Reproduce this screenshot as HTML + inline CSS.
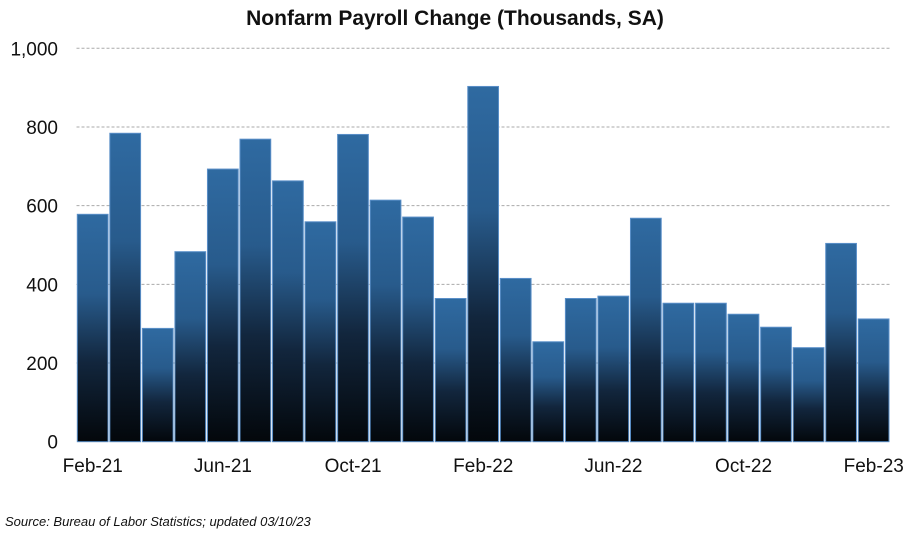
<!DOCTYPE html>
<html><head><meta charset="utf-8"><style>
body{margin:0;background:#fff;}
svg{display:block;font-family:"Liberation Sans",sans-serif;}
</style></head><body>
<svg id="chart" width="910" height="540">
<defs>
<linearGradient id="bg" x1="0" y1="0" x2="0" y2="1">
<stop offset="0" stop-color="#2f6aa1"/>
<stop offset="0.35" stop-color="#285b8c"/>
<stop offset="0.65" stop-color="#12263d"/>
<stop offset="1" stop-color="#03070b"/>
</linearGradient>
</defs>
<text x="455" y="25" text-anchor="middle" font-size="21" font-weight="bold" fill="#111">Nonfarm Payroll Change (Thousands, SA)</text>
<g id="grid"></g><g id="bars"></g><g id="xlabels"></g>
<text x="5" y="526" font-size="13" font-style="italic" fill="#111">Source: Bureau of Labor Statistics; updated 03/10/23</text>
</svg>
<script>
const categories=["Feb-21","Mar-21","Apr-21","May-21","Jun-21","Jul-21","Aug-21","Sep-21","Oct-21","Nov-21","Dec-21","Jan-22","Feb-22","Mar-22","Apr-22","May-22","Jun-22","Jul-22","Aug-22","Sep-22","Oct-22","Nov-22","Dec-22","Jan-23","Feb-23"];
const values=[578,784,288,483,693,769,663,559,781,614,571,364,903,415,254,364,370,568,352,352,324,291,239,504,312];
const yTicks=[0,200,400,600,800,1000];
const yTickLabels=["0","200","400","600","800","1,000"];
const xLabelIdx=[0,4,8,12,16,20,24];
const NS="http://www.w3.org/2000/svg";
const x0=76.5,x1=890,y0=441.7,y1=48.3,yMax=1000;
const pitch=(x1-x0)/categories.length;
function y(v){return y0-(v/yMax)*(y0-y1);}
function x(i){return x0+i*pitch;}
function mk(t,a,p){const e=document.createElementNS(NS,t);for(const k in a)e.setAttribute(k,a[k]);p.appendChild(e);return e;}
const grid=document.getElementById('grid');
yTicks.forEach((t,i)=>{
  if(t>0){const l=mk('line',{x1:x0,x2:x1,y1:y(t),y2:y(t),stroke:'#aaa','stroke-dasharray':'3,2','stroke-width':1},grid);
  
  }
  const tx=mk('text',{x:58,y:y(t)+7,'text-anchor':'end','font-size':19,fill:'#111'},grid);
  tx.textContent=yTickLabels[i];
  
  
});
const bars=document.getElementById('bars');
values.forEach((v,i)=>{
  const r=mk('rect',{x:x(i)+0.8,y:y(v),width:pitch-1.8,height:y0-y(v),fill:'url(#bg)',stroke:'#5a8fc8','stroke-width':1},bars);
  
  
});
const xl=document.getElementById('xlabels');
xLabelIdx.forEach(i=>{
  const t=mk('text',{x:x(i)+pitch/2,y:472,'text-anchor':'middle','font-size':19,fill:'#111'},xl);
  t.textContent=categories[i];
  
  
});
</script>
</body></html>
